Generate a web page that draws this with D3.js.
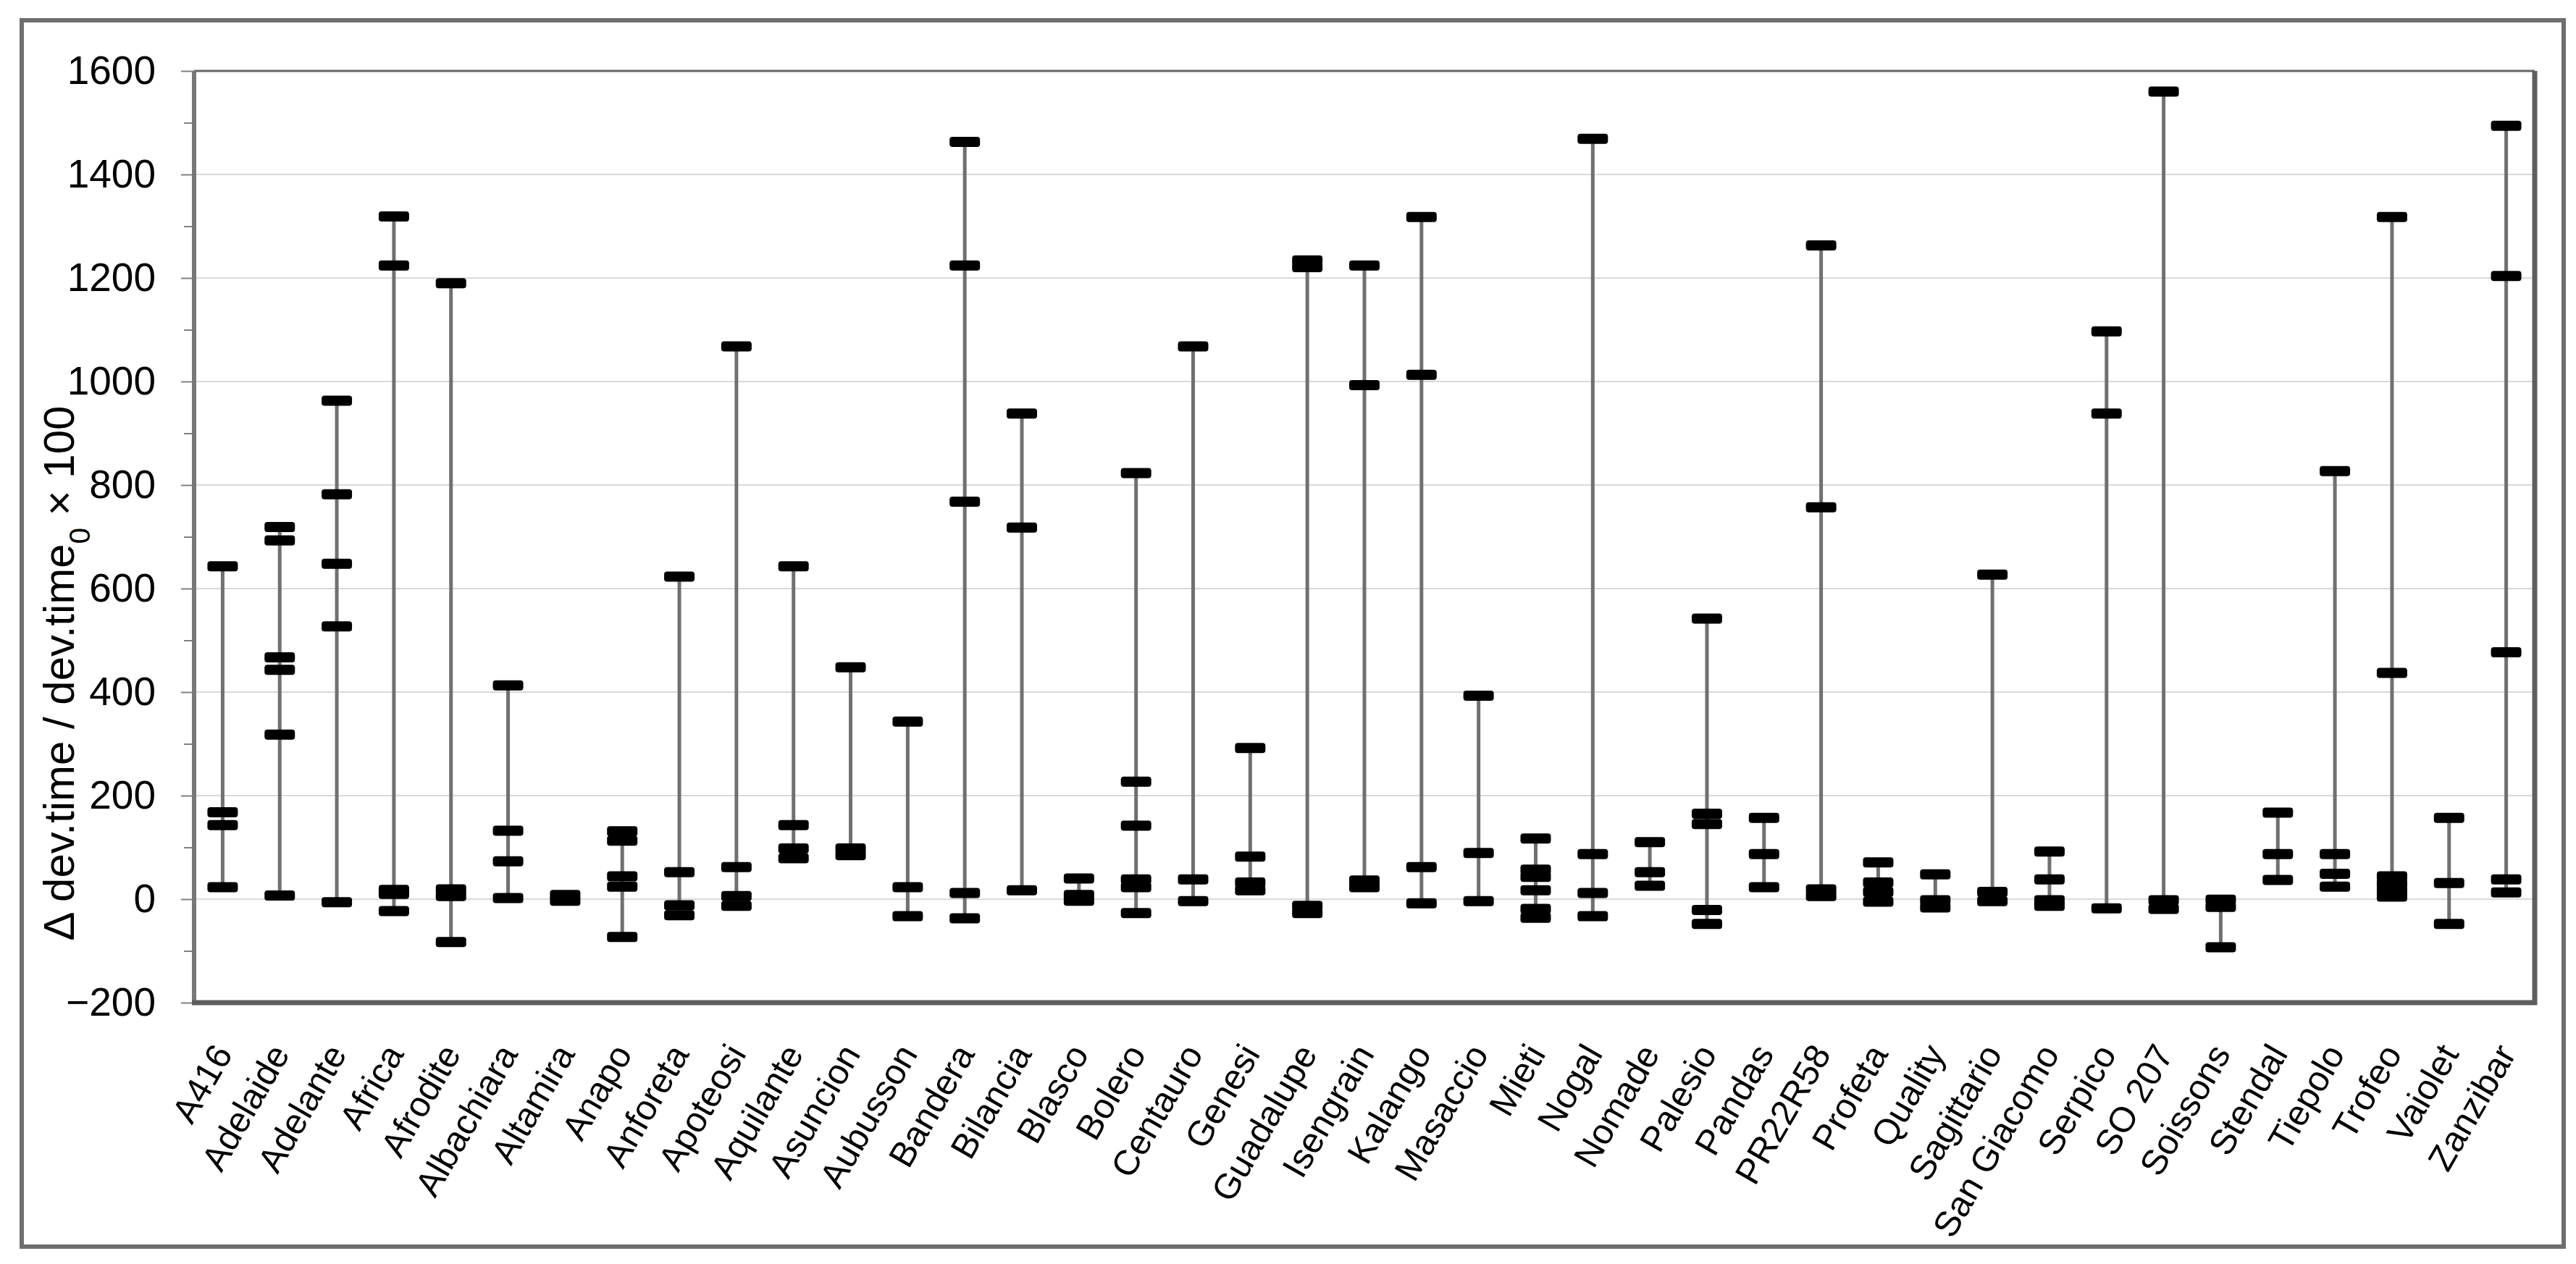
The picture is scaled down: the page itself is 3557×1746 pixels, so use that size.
<!DOCTYPE html>
<html>
<head>
<meta charset="utf-8">
<script src="https://cdn.jsdelivr.net/npm/d3@7"></script>
<style>
  body { margin: 0; background: #fff; }
  text { font-family: Arial, "Liberation Sans", sans-serif; fill: #000; }
</style>
</head>
<body>
<div id="chart"></div>
<script>
// wheat varieties on the x axis
const varieties = ["A416", "Adelaide", "Adelante", "Africa", "Afrodite", "Albachiara", "Altamira",
  "Anapo", "Anforeta", "Apoteosi", "Aquilante", "Asuncion", "Aubusson", "Bandera", "Bilancia",
  "Blasco", "Bolero", "Centauro", "Genesi", "Guadalupe", "Isengrain", "Kalango", "Masaccio",
  "Mieti", "Nogal", "Nomade", "Palesio", "Pandas", "PR22R58", "Profeta", "Quality", "Sagittario",
  "San Giacomo", "Serpico", "SO 207", "Soissons", "Stendal", "Tiepolo", "Trofeo", "Vaiolet", "Zanzibar"];

// delta dev.time values per variety (one list per variety, same order)
const deltas = [
  [643, 168, 143, 23],
  [719, 693, 467, 443, 318, 7],
  [963, 782, 648, 527, -6],
  [1319, 1224, 18, 10, -23],
  [1190, 19, 6, -83],
  [413, 132, 73, 2],
  [8, -3],
  [131, 113, 44, 24, -73],
  [623, 52, -12, -31],
  [1068, 62, 6, -13],
  [643, 143, 98, 79],
  [448, 98, 85],
  [343, 23, -33],
  [1463, 1224, 768, 12, -37],
  [938, 718, 17],
  [40, 8, -3],
  [823, 227, 142, 38, 23, -27],
  [1068, 38, -4],
  [292, 82, 32, 17],
  [1234, 1221, -13, -27],
  [1224, 993, 36, 23],
  [1318, 1013, 62, -8],
  [393, 89, -4],
  [117, 57, 43, 17, -19, -36],
  [1469, 87, 12, -33],
  [110, 52, 26],
  [542, 165, 145, -21, -48],
  [157, 87, 23],
  [1263, 757, 19, 6],
  [71, 32, 14, -5],
  [48, -2, -16],
  [627, 14, -4],
  [92, 38, -2, -13],
  [1097, 938, -18],
  [1560, -2, -19],
  [-1, -15, -93],
  [167, 87, 37],
  [827, 87, 49, 24],
  [1318, 437, 44, 30, 17, 5],
  [157, 31, -48],
  [1494, 1204, 477, 38, 13]
];

const majorTicks = [-200, 0, 200, 400, 600, 800, 1000, 1200, 1400, 1600];
const minorTicks = [-100, 100, 300, 500, 700, 900, 1100, 1300, 1500];

const W = 3557, H = 1746;
const plot = {left: 268, right: 3500, top: 98, bottom: 1385};

const svg = d3.select("#chart")
  .append("svg")
  .attr("width", W)
  .attr("height", H);

// outer frame
svg.append("rect")
  .attr("x", 30).attr("y", 28)
  .attr("width", 3510).attr("height", 1694)
  .attr("fill", "#fff")
  .attr("stroke", "#6e6e6e")
  .attr("stroke-width", 6);

const x = d3.scaleBand().domain(varieties).range([plot.left, plot.right]);
const y = d3.scaleLinear().domain([-200, 1600]).range([plot.bottom, plot.top]);

// gridlines
svg.append("g")
  .selectAll("line")
  .data(majorTicks)
  .enter()
  .append("line")
  .attr("x1", plot.left).attr("x2", plot.right)
  .attr("y1", d => y(d)).attr("y2", d => y(d))
  .attr("stroke", "#d9d9d9")
  .attr("stroke-width", 2);

// y axis: major and minor ticks
const yAxis = svg.append("g")
  .attr("transform", `translate(${plot.left},0)`)
  .call(d3.axisLeft(y).tickValues(majorTicks).tickSize(18).tickPadding(35).tickFormat(d3.format("d")));
yAxis.select(".domain").remove();
yAxis.selectAll("line").attr("stroke", "#808080").attr("stroke-width", 2);
yAxis.selectAll("text")
  .style("font-size", "55px")
  .style("font-family", "Arial, 'Liberation Sans', sans-serif")
  .attr("fill", "#111");

const yMinor = svg.append("g")
  .attr("transform", `translate(${plot.left},0)`)
  .call(d3.axisLeft(y).tickValues(minorTicks).tickSize(14).tickFormat(""));
yMinor.select(".domain").remove();
yMinor.selectAll("line").attr("stroke", "#808080").attr("stroke-width", 2);

// range lines
const groups = svg.append("g")
  .selectAll("g")
  .data(varieties.map((v, i) => ({name: v, vals: deltas[i]})))
  .enter()
  .append("g")
  .attr("transform", d => `translate(${x(d.name) + x.bandwidth() / 2},0)`);

groups.append("line")
  .attr("y1", d => y(d3.max(d.vals)))
  .attr("y2", d => y(d3.min(d.vals)))
  .attr("stroke", "#707070")
  .attr("stroke-width", 5);

// value markers
groups.selectAll("rect")
  .data(d => d.vals)
  .enter()
  .append("rect")
  .attr("x", -21)
  .attr("y", d => y(d) - 7)
  .attr("width", 42)
  .attr("height", 14)
  .attr("rx", 4)
  .attr("fill", "#000");

// plot frame
svg.append("line")
  .attr("x1", plot.left).attr("x2", plot.right)
  .attr("y1", plot.top).attr("y2", plot.top)
  .attr("stroke", "#666").attr("stroke-width", 3);
svg.append("line")
  .attr("x1", plot.left).attr("x2", plot.left)
  .attr("y1", plot.top).attr("y2", plot.bottom)
  .attr("stroke", "#777").attr("stroke-width", 6);
svg.append("line")
  .attr("x1", plot.right).attr("x2", plot.right)
  .attr("y1", plot.top).attr("y2", plot.bottom + 3)
  .attr("stroke", "#5e5e5e").attr("stroke-width", 7);
svg.append("line")
  .attr("x1", plot.left - 3).attr("x2", plot.right + 3)
  .attr("y1", plot.bottom).attr("y2", plot.bottom)
  .attr("stroke", "#5e5e5e").attr("stroke-width", 7);

// category labels
svg.append("g")
  .selectAll("text")
  .data(varieties)
  .enter()
  .append("text")
  .attr("transform", d => `translate(${x(d) + x.bandwidth() / 2},1447) rotate(-60)`)
  .attr("dy", "0.35em")
  .attr("text-anchor", "end")
  .style("font-size", "49px")
  .text(d => d);

// y title
const title = svg.append("text")
  .attr("transform", "translate(102,930) rotate(-90)")
  .attr("text-anchor", "middle")
  .style("font-size", "60px");
title.append("tspan").text("\u0394 dev.time / dev.time");
title.append("tspan").attr("baseline-shift", "sub").style("font-size", "40px").text("0");
title.append("tspan").text(" \u00d7 100");
</script>
</body>
</html>
